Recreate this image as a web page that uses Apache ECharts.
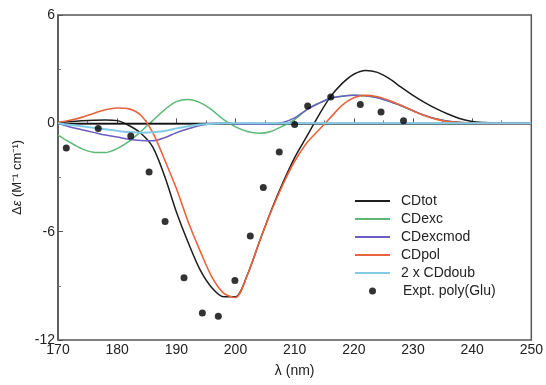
<!DOCTYPE html>
<html>
<head>
<meta charset="utf-8">
<script src="https://cdn.jsdelivr.net/npm/echarts@6/dist/echarts.min.js"></script>
<style>
html,body{margin:0;padding:0;background:#fff;}
#chart{width:546px;height:385px;}
</style>
</head>
<body>
<div id="chart"></div>
<script>
// wavelength grid (nm)
const wavelengths = [170,172,174,176,178,180,182,184,186,188,190,192,194,196,198,200,202,204,206,208,210,212,214,216,218,220,222,224,226,228,230,232,234,236,238,240,242,244,246,248,250];
const cdTot =     [0.05,0.10,0.14,0.17,0.18,0.15,-0.12,-0.55,-1.3,-2.9,-4.9,-6.6,-8.1,-9.1,-9.6,-9.6,-8.4,-6.6,-4.85,-3.3,-1.9,-0.75,0.4,1.45,2.2,2.72,2.93,2.82,2.47,2.0,1.55,1.15,0.8,0.5,0.25,0.1,0.04,0.01,0,0,0];
const cdExc =     [-0.65,-1.05,-1.4,-1.6,-1.62,-1.4,-1.0,-0.45,0.15,0.75,1.2,1.32,1.15,0.75,0.2,-0.2,-0.45,-0.55,-0.45,-0.15,0.2,0.75,1.1,1.38,1.5,1.55,1.52,1.42,1.22,0.97,0.7,0.44,0.24,0.11,0.05,0.02,0.01,0,0,0,0];
const cdExcMod =  [0,-0.2,-0.35,-0.5,-0.65,-0.76,-0.88,-0.95,-0.97,-0.8,-0.52,-0.3,-0.12,-0.02,0,-0.02,-0.04,-0.05,-0.04,0.05,0.3,0.75,1.1,1.38,1.5,1.55,1.53,1.42,1.22,0.97,0.7,0.44,0.24,0.11,0.05,0.02,0.01,0,0,0,0];
const cdPol =     [0.05,0.17,0.33,0.55,0.75,0.85,0.8,0.45,-0.5,-2.0,-3.6,-5.45,-7.05,-8.5,-9.4,-9.65,-8.4,-6.6,-4.9,-3.4,-2.1,-1.1,-0.4,0.3,1.0,1.42,1.55,1.47,1.27,1.0,0.7,0.42,0.22,0.1,0.04,0.01,0,0,0,0,0];
const cdDoub2 =   [0,-0.08,-0.16,-0.25,-0.33,-0.41,-0.48,-0.52,-0.5,-0.42,-0.28,-0.16,-0.07,-0.02,0,0,0,0,0,0,0,0,0,0,0,0,0,0,0,0,0,0,0,0,0,0,0,0,0,0,0];
// experimental poly(Glu)
const exptX = [171.4,176.8,182.3,185.4,188.1,191.3,194.4,197.1,199.9,202.5,204.7,207.4,210.0,212.2,216.1,221.1,224.6,228.4];
const exptY = [-1.37,-0.29,-0.70,-2.70,-5.43,-8.55,-10.51,-10.68,-8.70,-6.24,-3.55,-1.59,-0.07,0.96,1.46,1.04,0.63,0.15];
const xTicks = [170,180,190,200,210,220,230,240,250];
const yTicks = [-12,-6,0,6];
const lineNames = ['CDtot','CDexc','CDexcmod','CDpol','2 x CDdoub'];
const dotName = 'Expt. poly(Glu)';

const pair = (xs, ys) => xs.map((x, i) => [x, ys[i]]);
const FONT = '"Liberation Sans", Arial, sans-serif';
const chart = echarts.init(document.getElementById('chart'), null, {renderer: 'canvas'});
const lineSeries = (name, ys, color, width, z) => ({
  name, type: 'line', data: pair(wavelengths, ys), smooth: 0.3, symbol: 'none', showSymbol: false,
  lineStyle: {color, width}, itemStyle: {color}, z, animation: false
});
chart.setOption({
  animation: false,
  grid: {left: 58, right: 13, top: 15, bottom: 45, show: true, borderColor: '#555', borderWidth: 1.5, backgroundColor: 'transparent'},
  xAxis: {
    type: 'value', min: xTicks[0], max: xTicks[xTicks.length-1], interval: 10,
    name: 'λ (nm)', nameLocation: 'middle', nameGap: 24,
    nameTextStyle: {fontFamily: FONT, fontSize: 14, color: '#222'},
    axisLine: {show: true, lineStyle: {color: '#555', width: 1.5}},
    axisTick: {show: true, inside: true, length: 5, lineStyle: {color: '#555'}},
    minorTick: {show: true, splitNumber: 2, length: 3, lineStyle: {color: '#777'}},
    axisLabel: {fontFamily: FONT, fontSize: 14, color: '#222', margin: 3},
    splitLine: {show: false}
  },
  yAxis: {
    type: 'value', min: yTicks[0], max: yTicks[yTicks.length-1], interval: 6,
    name: '{g|Δ}{i|ε}{g| (M⁻¹ cm⁻¹)}', nameLocation: 'middle', nameGap: 34,
    nameTextStyle: {fontFamily: FONT, fontSize: 13, color: '#222',
      rich: {g: {fontFamily: FONT, fontSize: 13, color: '#222'}, i: {fontFamily: FONT, fontSize: 13, fontStyle: 'italic', color: '#222'}}},
    axisLine: {show: true, onZero: false, lineStyle: {color: '#555', width: 1.5}},
    axisTick: {show: true, inside: true, length: 5, lineStyle: {color: '#555'}},
    minorTick: {show: true, splitNumber: 2, length: 3, lineStyle: {color: '#777'}},
    axisLabel: {fontFamily: FONT, fontSize: 14, color: '#222', margin: 3},
    splitLine: {show: false}
  },
  legend: [
    {
      orient: 'vertical', left: 355, top: 194, padding: 0,
      itemWidth: 35, itemHeight: 2, itemGap: 4,
      textStyle: {fontFamily: FONT, fontSize: 14, color: '#222', padding: [0,0,0,6]},
      data: lineNames.map(n => ({name: n, icon: 'rect'}))
    },
    {
      orient: 'vertical', left: 369, top: 284, padding: 0,
      itemWidth: 35, itemHeight: 7, itemGap: 4,
      textStyle: {fontFamily: FONT, fontSize: 14, color: '#222', padding: [0,0,0,8]},
      data: [{name: dotName, icon: 'circle'}]
    }
  ],
  series: [
    Object.assign(lineSeries(lineNames[0], cdTot, '#1e1e1e', 1.5, 3), {
      markLine: {silent: true, symbol: 'none', label: {show: false},
        lineStyle: {color: '#111', width: 1.3, type: 'solid'}, data: [{yAxis: 0}]}
    }),
    lineSeries(lineNames[1], cdExc, '#5cb874', 1.5, 4),
    lineSeries(lineNames[2], cdExcMod, '#6a5fc0', 1.5, 5),
    lineSeries(lineNames[3], cdPol, '#e8643c', 1.6, 6),
    lineSeries(lineNames[4], cdDoub2, '#82cbe6', 2, 7),
    {name: dotName, type: 'scatter', data: pair(exptX, exptY), symbol: 'circle', symbolSize: 7,
     itemStyle: {color: '#000'}, z: 10}
  ]
});
</script>
</body>
</html>
